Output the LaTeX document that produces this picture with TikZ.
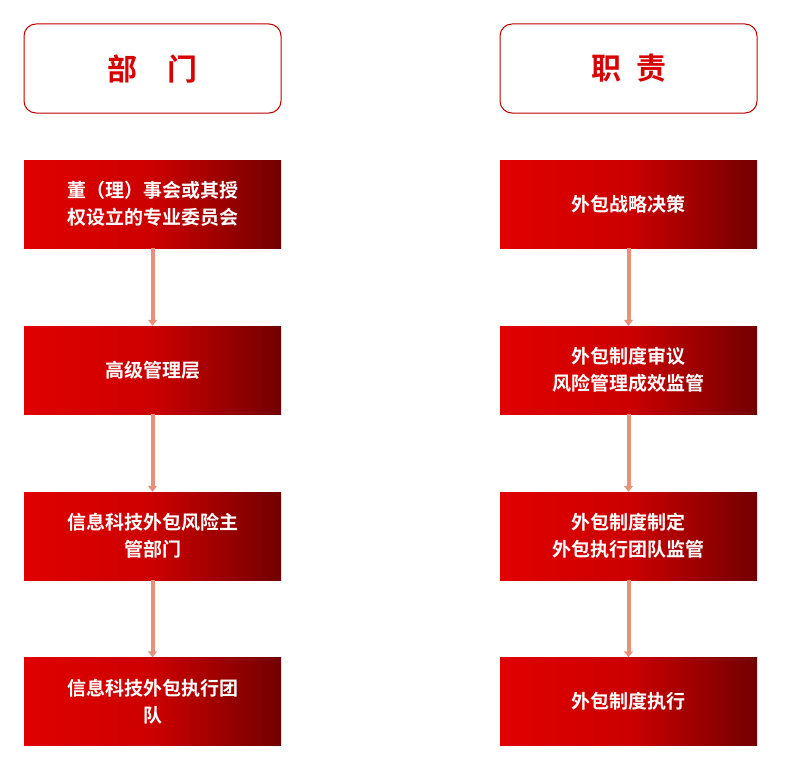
\documentclass[tikz,border=0pt]{standalone}
\usepackage{fontspec}
\newfontfamily\cjk{Noto Sans CJK SC}[BoldFont={Noto Sans CJK SC Bold}]
\begin{document}
\begin{tikzpicture}[x=1pt,y=-1pt,
  hdr/.style={draw=red!75!black,line width=1pt,rounded corners=12pt,fill=white,minimum width=257pt,minimum height=89pt,text=red!85!black,font=\cjk\bfseries\fontsize{30}{30}\selectfont},
  box/.style={minimum width=257pt,minimum height=88pt,left color=red!88!black,right color=red!45!black,middle color=red!80!black,text=white,align=center,font=\cjk\bfseries\fontsize{19}{27}\selectfont},
  arr/.style={draw={rgb,255:red,232;green,145;blue,122},line width=4pt,-{Triangle[width=9pt,length=6pt]}}]
\useasboundingbox (0,0) rectangle (800,760);
\usetikzlibrary{arrows.meta}
\node[hdr] (h1) at (152.5,68.5) {部\hspace{1em}门};
\node[hdr] (h2) at (628.5,68.5) {职\hspace{0.5em}责};
\node[box] (a1) at (152.5,204) {董（理）事会或其授\\权设立的专业委员会};
\node[box] (a2) at (152.5,370) {高级管理层};
\node[box] (a3) at (152.5,536) {信息科技外包风险主\\管部门};
\node[box] (a4) at (152.5,701.5) {信息科技外包执行团\\队};
\node[box] (b1) at (628.5,204) {外包战略决策};
\node[box] (b2) at (628.5,370) {外包制度审议\\风险管理成效监管};
\node[box] (b3) at (628.5,536) {外包制度制定\\外包执行团队监管};
\node[box] (b4) at (628.5,701.5) {外包制度执行};
\foreach \p/\q in {a1/a2,a2/a3,a3/a4,b1/b2,b2/b3,b3/b4}
  \draw[arr] (\p.south) -- (\q.north);
\end{tikzpicture}
\end{document}
